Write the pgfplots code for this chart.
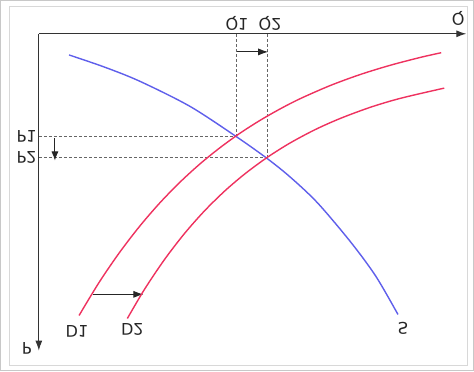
\documentclass[border=0pt]{standalone}
\usepackage{pgfplots}
\pgfplotsset{compat=1.18}
\usetikzlibrary{arrows.meta}
\usepackage{fontspec}
\setmainfont{DejaVu Sans}
\usepackage{graphicx}
\definecolor{dred}{RGB}{238,50,95}
\definecolor{sblue}{RGB}{95,95,235}
\definecolor{frame}{RGB}{200,200,200}
\begin{document}
\begin{tikzpicture}
\begin{axis}[
  scale only axis, width=474pt, height=372pt,
  xmin=0, xmax=474, ymin=0, ymax=372, y dir=reverse,
  hide axis, clip=false,
]
% frame
\draw[frame, line width=1.2pt] (axis cs:2,2) rectangle (axis cs:472,370);
\draw[frame!70, line width=1pt] (axis cs:11,8) rectangle (axis cs:466,365);
% axes
\draw[black!80, line width=1.1pt, -{Latex[length=10pt,width=7pt]}] (axis cs:40,35) -- (axis cs:465,35);
\draw[black!80, line width=1.1pt, -{Latex[length=10pt,width=7pt]}] (axis cs:40,35) -- (axis cs:40,350);
% dashed guides
\draw[black!60, dash pattern=on 3pt off 2pt, line width=0.6pt] (axis cs:40,137) -- (axis cs:236,137);
\draw[black!60, dash pattern=on 3pt off 2pt, line width=0.6pt] (axis cs:40,158) -- (axis cs:267,158);
\draw[black!60, dash pattern=on 3pt off 2pt, line width=0.6pt] (axis cs:236,35) -- (axis cs:236,137);
\draw[black!60, dash pattern=on 3pt off 2pt, line width=0.6pt] (axis cs:267,35) -- (axis cs:267,158);
% shift arrows
\draw[black!85, line width=0.9pt, -{Latex[length=10pt,width=7pt]}] (axis cs:237,53) -- (axis cs:268,53);
\draw[black!85, line width=0.9pt, -{Latex[length=9pt,width=7pt]}] (axis cs:56,139) -- (axis cs:56,161);
\draw[black!85, line width=0.9pt, -{Latex[length=10pt,width=7pt]}] (axis cs:94,294) -- (axis cs:144,294);
% curves
\addplot[sblue, line width=1.4pt, smooth] coordinates {
 (70,56) (105,68) (140,82) (190,107) (236,137) (267,159) (290,177.5) (317,203) (350,242) (375,276) (397,314)};
\addplot[dred, line width=1.4pt, smooth] coordinates {
 (80,315) (100,282.0) (120,252.7) (140,226.6) (160,203.4) (180,182.8) (200,164.5) (220,148.3) (240,133.8) (260,121.0) (280,109.6) (300,99.4) (330,86.3) (360,75.3) (390,66.1) (420,58.3) (440,53.8)};
\addplot[dred, line width=1.4pt, smooth] coordinates {
 (128,318) (145,289.1) (165,259.3) (185,233.3) (205,210.7) (225,191.1) (245,174.1) (267,157.9) (290,143.4) (315,130.1) (340,119.0) (370,107.9) (400,99.0) (443,89.0)};
% labels (vertically mirrored)
\tikzset{lab/.style={font=\fontsize{16}{16}\selectfont, text=black!85}}
\node[lab] at (axis cs:237,25) {\scalebox{1}[-1]{Q1}};
\node[lab] at (axis cs:270,25) {\scalebox{1}[-1]{Q2}};
\node[lab] at (axis cs:457,20) {\scalebox{1}[-1]{Q}};
\node[lab, anchor=east, inner sep=1pt] at (axis cs:39,137) {\scalebox{1}[-1]{P1}};
\node[lab, anchor=east, inner sep=1pt] at (axis cs:39,158) {\scalebox{1}[-1]{P2}};
\node[lab] at (axis cs:28,348) {\scalebox{1}[-1]{P}};
\node[lab] at (axis cs:78,331) {\scalebox{1}[-1]{D1}};
\node[lab] at (axis cs:133,329) {\scalebox{1}[-1]{D2}};
\node[lab] at (axis cs:402,328) {\scalebox{1}[-1]{S}};
\end{axis}
\end{tikzpicture}
\end{document}
